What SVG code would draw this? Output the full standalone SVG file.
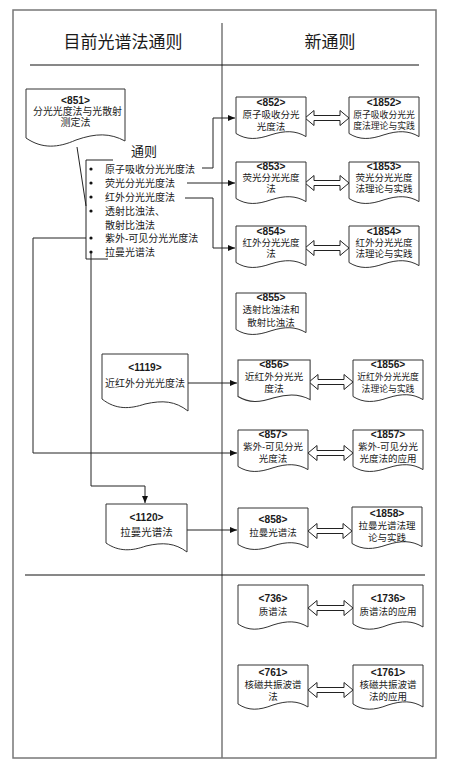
<svg xmlns="http://www.w3.org/2000/svg" xmlns:xlink="http://www.w3.org/1999/xlink" width="452" height="764" viewBox="0 0 452 764">
<style>
.frame{fill:none;stroke:#777;stroke-width:1.5}
.rule{stroke:#111;stroke-width:1}
.doc{fill:#fff;stroke:#333;stroke-width:1}
.dbl{fill:#fff;stroke:#222;stroke-width:1}
.conn{fill:none;stroke:#222;stroke-width:1}
text{font-family:"Liberation Sans","Noto Sans CJK SC",sans-serif;fill:#1a1a1a;text-anchor:middle;dominant-baseline:central}
.t{font-size:9.5px}
.n{font-size:10.2px;font-weight:bold}
.s{font-size:8.8px}
.b{font-size:10px;text-anchor:start}
.h{font-size:17px}
</style>
<defs>
<marker id="arr" markerWidth="7" markerHeight="6" refX="7" refY="3" orient="auto" markerUnits="userSpaceOnUse">
<path d="M0,0 L7,3 L0,6 Z" fill="#111"/>
</marker>
<path id="d70" d="M0,0 H70 V39.6 C59.5,33.4 49,33.4 35,37.8 C21,42.7 10.5,43.1 0,36.5 Z"/>
<path id="d70b" d="M0,0 H70 V42 C59.5,35.5 49,35.5 35,40 C21,45.5 10.5,46 0,39 Z"/>
</defs>
<rect x="0" y="0" width="452" height="764" fill="#fff"/>
<g id="frame">
<rect class="frame" x="13" y="10" width="423" height="748"/>
<line x1="222" y1="23" x2="222" y2="758" stroke="#777" stroke-width="1.5"/>
<line class="rule" x1="30" y1="65" x2="419" y2="65"/>
<line class="rule" x1="25" y1="575" x2="425" y2="575"/>
<text class="h" x="123" y="42">目前光谱法通则</text>
<text class="h" x="330" y="42">新通则</text>
</g>
<g id="connectors">
<line class="conn" x1="77" y1="147" x2="86" y2="206"/>
<path class="conn" d="M113,160 H86 V259 H108"/>
<path class="conn" d="M202,168 H213 V118 H235" marker-end="url(#arr)"/>
<path class="conn" d="M187,183 H235" marker-end="url(#arr)"/>
<path class="conn" d="M185,198 H213 V248 H235" marker-end="url(#arr)"/>
<path class="conn" d="M86,238 H33 V453 H237" marker-end="url(#arr)"/>
<path class="conn" d="M91,252 V486 H145 V503" marker-end="url(#arr)"/>
<path class="conn" d="M188,383 H237" marker-end="url(#arr)"/>
<path class="conn" d="M187,530 H237" marker-end="url(#arr)"/>
<path class="dbl" d="M305,118 L314,110.5 V115.5 H340 V110.5 L349,118 L340,125.5 V120.5 H314 V125.5 Z"/>
<path class="dbl" d="M305,183 L314,175.5 V180.5 H340 V175.5 L349,183 L340,190.5 V185.5 H314 V190.5 Z"/>
<path class="dbl" d="M305,248 L314,240.5 V245.5 H340 V240.5 L349,248 L340,255.5 V250.5 H314 V255.5 Z"/>
<path class="dbl" d="M309,382 L318,374.5 V379.5 H344 V374.5 L353,382 L344,389.5 V384.5 H318 V389.5 Z"/>
<path class="dbl" d="M308,453 L317,445.5 V450.5 H344 V445.5 L353,453 L344,460.5 V455.5 H317 V460.5 Z"/>
<path class="dbl" d="M308,531 L317,523.5 V528.5 H343 V523.5 L352,531 L343,538.5 V533.5 H317 V538.5 Z"/>
<path class="dbl" d="M308,608 L317,600.5 V605.5 H344 V600.5 L353,608 L344,615.5 V610.5 H317 V615.5 Z"/>
<path class="dbl" d="M308,690 L317,682.5 V687.5 H344 V682.5 L353,690 L344,697.5 V692.5 H317 V697.5 Z"/>
</g>
<g id="n851">
<path class="doc" d="M26,89 H125 V141 C110,133 96,133 76,140 C58,148 42,149 26,138 Z"/>
<text class="n" x="75.5" y="100">&lt;851&gt;</text>
<text class="b" x="33" y="111" style="font-size:9.9px">分光光度法与光散射</text>
<text class="t" x="75.5" y="122" style="font-size:10px">测定法</text>
</g>
<g id="tongze">
<text x="144" y="151" style="font-size:13px">通则</text>
<g fill="#111"><circle cx="91" cy="169" r="1.6"/><circle cx="91" cy="183" r="1.6"/><circle cx="91" cy="197" r="1.6"/><circle cx="91" cy="211" r="1.6"/><circle cx="91" cy="238" r="1.6"/><circle cx="91" cy="252" r="1.6"/></g>
<text class="b" x="105" y="169">原子吸收分光光度法</text>
<text class="b" x="105" y="183">荧光分光光度法</text>
<text class="b" x="105" y="197">红外分光光度法</text>
<text class="b" x="105" y="211">透射比浊法、</text>
<text class="b" x="105" y="225">散射比浊法</text>
<text class="b" x="105" y="238">紫外-可见分光光度法</text>
<text class="b" x="105" y="252">拉曼光谱法</text>
</g>
<g id="n1119">
<path class="doc" d="M102,354 H188 V411 C175,401 163,400 145,404 C130,409 116,410 102,399 Z"/>
<text class="n" x="145" y="367">&lt;1119&gt;</text>
<text class="t" x="145" y="383" style="font-size:10px">近红外分光光度法</text>
</g>
<g id="n1120">
<path class="doc" d="M106,504 H187 V552 C175,543 163,542 146,546 C132,551 119,552 106,543 Z"/>
<text class="n" x="146.5" y="517">&lt;1120&gt;</text>
<text class="t" x="146.5" y="532" style="font-size:10.5px">拉曼光谱法</text>
</g>
<g id="n852" transform="translate(236,97)">
<use href="#d70" class="doc"/>
<text class="n" x="35" y="5.5">&lt;852&gt;</text>
<text class="t" x="35" y="17.5">原子吸收分光</text>
<text class="t" x="35" y="29">光度法</text>
</g>
<g id="n1852" transform="translate(349,97)">
<use href="#d70" class="doc"/>
<text class="n" x="35" y="5.5">&lt;1852&gt;</text>
<text class="s" x="35" y="17.5">原子吸收分光光</text>
<text class="s" x="35" y="29">度法理论与实践</text>
</g>
<g id="n853" transform="translate(236,162)">
<use href="#d70" class="doc"/>
<text class="n" x="35" y="4.5">&lt;853&gt;</text>
<text class="t" x="35" y="15.5">荧光分光光度</text>
<text class="t" x="35" y="26.5">法</text>
</g>
<g id="n1853" transform="translate(349,162)">
<use href="#d70" class="doc"/>
<text class="n" x="35" y="4.5">&lt;1853&gt;</text>
<text class="t" x="35" y="15.5">荧光分光光度</text>
<text class="t" x="35" y="26.5">法理论与实践</text>
</g>
<g id="n854" transform="translate(236,226)">
<use href="#d70" class="doc"/>
<text class="n" x="35" y="5">&lt;854&gt;</text>
<text class="t" x="35" y="16">红外分光光度</text>
<text class="t" x="35" y="27">法</text>
</g>
<g id="n1854" transform="translate(349,226)">
<use href="#d70" class="doc"/>
<text class="n" x="35" y="5">&lt;1854&gt;</text>
<text class="t" x="35" y="16">红外分光光度</text>
<text class="t" x="35" y="27">法理论与实践</text>
</g>
<g id="n855" transform="translate(236,293)">
<use href="#d70" class="doc"/>
<text class="n" x="35" y="4.5">&lt;855&gt;</text>
<text class="t" x="35" y="16.5">透射比浊法和</text>
<text class="t" x="35" y="29">散射比浊法</text>
</g>
<g id="n856" transform="translate(238,360) scale(1.03,1)">
<use href="#d70" class="doc"/>
<text class="n" x="35" y="4.5">&lt;856&gt;</text>
<text class="t" x="35" y="16.5">近红外分光光</text>
<text class="t" x="35" y="28.5">度法</text>
</g>
<g id="n1856" transform="translate(353,360)">
<use href="#d70" class="doc"/>
<text class="n" x="35" y="4.5">&lt;1856&gt;</text>
<text class="s" x="35" y="16.5">近红外分光光度</text>
<text class="s" x="35" y="28.5">法理论与实践</text>
</g>
<g id="n857" transform="translate(238,430)">
<use href="#d70" class="doc"/>
<text class="n" x="35" y="4.5">&lt;857&gt;</text>
<text class="t" x="35" y="16.5">紫外-可见分光</text>
<text class="t" x="35" y="28.5">光度法</text>
</g>
<g id="n1857" transform="translate(353,430)">
<use href="#d70" class="doc"/>
<text class="n" x="35" y="4.5">&lt;1857&gt;</text>
<text class="t" x="35" y="16.5">紫外-可见分光</text>
<text class="t" x="35" y="28.5">光度法的应用</text>
</g>
<g id="n858" transform="translate(238,508)">
<use href="#d70" class="doc"/>
<text class="n" x="35" y="11">&lt;858&gt;</text>
<text class="t" x="35" y="24">拉曼光谱法</text>
</g>
<g id="n1858" transform="translate(352,507)">
<use href="#d70" class="doc"/>
<text class="n" x="35" y="6">&lt;1858&gt;</text>
<text class="t" x="35" y="18">拉曼光谱法理</text>
<text class="t" x="35" y="30">论与实践</text>
</g>
<g id="n736" transform="translate(238,585)">
<use href="#d70b" class="doc"/>
<text class="n" x="35" y="13">&lt;736&gt;</text>
<text class="t" x="35" y="26">质谱法</text>
</g>
<g id="n1736" transform="translate(353,585)">
<use href="#d70b" class="doc"/>
<text class="n" x="35" y="13">&lt;1736&gt;</text>
<text class="t" x="35" y="26">质谱法的应用</text>
</g>
<g id="n761" transform="translate(238,665)">
<use href="#d70b" class="doc"/>
<text class="n" x="35" y="7">&lt;761&gt;</text>
<text class="t" x="35" y="19">核磁共振波谱</text>
<text class="t" x="35" y="31">法</text>
</g>
<g id="n1761" transform="translate(353,665)">
<use href="#d70b" class="doc"/>
<text class="n" x="35" y="7">&lt;1761&gt;</text>
<text class="t" x="35" y="19">核磁共振波谱</text>
<text class="t" x="35" y="31">法的应用</text>
</g>
</svg>
